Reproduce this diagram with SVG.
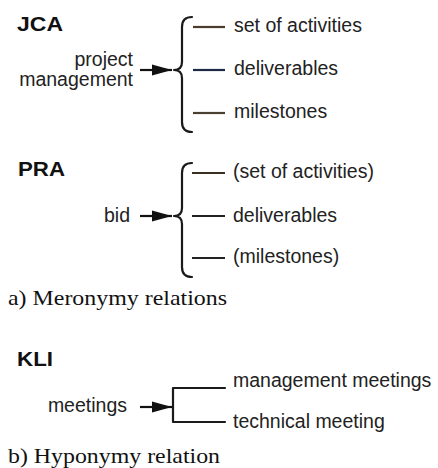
<svg xmlns="http://www.w3.org/2000/svg" width="438" height="468" viewBox="0 0 438 468">
<defs>
<style>
.t{font-family:"Liberation Sans",Arial,sans-serif;font-size:19.5px;fill:#222}
.h{font-family:"Liberation Sans",Arial,sans-serif;font-size:19.5px;font-weight:bold;fill:#111}
.c{font-family:"Liberation Serif","Times New Roman",serif;font-size:22px;fill:#111}
.br{fill:none;stroke:#1a1a1a;stroke-width:2.2;stroke-linecap:round;stroke-linejoin:round}
.ln{stroke-width:2.2;fill:none}
.ar{stroke:#111;stroke-width:2.2;fill:none}
</style>
<marker id="ah" markerWidth="20" markerHeight="12" refX="20" refY="6" orient="auto" markerUnits="userSpaceOnUse" viewBox="0 0 20 12">
<path d="M0,0.5 L20,6 L0,11.5 z" fill="#111"/>
</marker>
</defs>
<rect width="438" height="468" fill="#fff"/>

<g id="jca">
<text class="h" x="17" y="31" textLength="46" lengthAdjust="spacingAndGlyphs">JCA</text>
<text class="t" x="133" y="66" text-anchor="end">project</text>
<text class="t" x="133" y="86" text-anchor="end">management</text>
<text class="t" x="234" y="32">set of activities</text>
<text class="t" x="234" y="75">deliverables</text>
<text class="t" x="234" y="118">milestones</text>
</g>

<g id="pra">
<text class="h" x="18" y="176" textLength="47" lengthAdjust="spacingAndGlyphs">PRA</text>
<text class="t" x="130" y="222" text-anchor="end">bid</text>
<text class="t" x="233" y="178">(set of activities)</text>
<text class="t" x="233" y="222">deliverables</text>
<text class="t" x="233" y="263">(milestones)</text>
</g>

<g id="kli">
<text class="h" x="17" y="366" textLength="36" lengthAdjust="spacingAndGlyphs">KLI</text>
<text class="t" x="127" y="412" text-anchor="end">meetings</text>
<text class="t" x="233" y="387">management meetings</text>
<text class="t" x="233" y="428">technical meeting</text>
</g>

<g id="captions">
<text class="c" x="8" y="305" textLength="219" lengthAdjust="spacingAndGlyphs">a) Meronymy relations</text>
<text class="c" x="8" y="463" textLength="212" lengthAdjust="spacingAndGlyphs">b) Hyponymy relation</text>
</g>

<g id="connectors">
<!-- JCA -->
<line class="ar" x1="140" y1="70" x2="172" y2="70" marker-end="url(#ah)"/>
<path class="br" d="M192,17 Q182,17 182,27 L182,62 Q182,70 174,70 Q182,70 182,78 L182,122 Q182,132 192,132"/>
<line class="ln" x1="193" y1="27" x2="225" y2="27" stroke="#4a3b2a"/>
<line class="ln" x1="193" y1="70" x2="225" y2="70" stroke="#1e2a45"/>
<line class="ln" x1="193" y1="113" x2="225" y2="113" stroke="#4a4030"/>
<!-- PRA -->
<line class="ar" x1="140" y1="216" x2="172" y2="216" marker-end="url(#ah)"/>
<path class="br" d="M192,163 Q182,163 182,173 L182,208 Q182,216 174,216 Q182,216 182,224 L182,267 Q182,277 192,277"/>
<line class="ln" x1="192" y1="173" x2="225" y2="173" stroke="#3a3022"/>
<line class="ln" x1="192" y1="216" x2="225" y2="216" stroke="#222"/>
<line class="ln" x1="192" y1="258" x2="225" y2="258" stroke="#222"/>
<!-- KLI -->
<line class="ar" x1="140" y1="407" x2="172" y2="407" marker-end="url(#ah)"/>
<path class="br" d="M225,388 L173,388 L173,422 L225,422" stroke-linecap="butt" stroke-linejoin="miter"/>
</g>
</svg>
